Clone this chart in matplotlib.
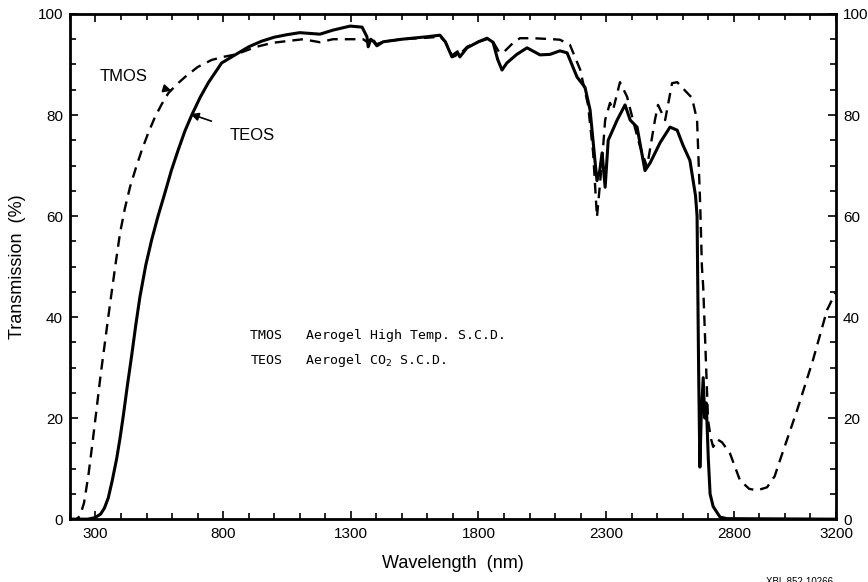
import matplotlib
matplotlib.use('Agg')
import matplotlib.pyplot as plt
from matplotlib.ticker import MultipleLocator

# TEOS aerogel (CO2 supercritical drying), solid line
teos_nm = [200, 270, 298, 320, 335, 350, 365, 383, 396, 409, 425, 442, 458, 474,
           497, 520, 545, 572, 597, 624, 650, 677, 710, 742, 794, 850, 900, 950,
           1000, 1050, 1100, 1179, 1230, 1297, 1344, 1363,
           1368, 1378, 1390, 1402, 1427, 1500, 1600, 1649, 1670, 1696, 1710, 1718,
           1727, 1755, 1800, 1833, 1857, 1875, 1892, 1911, 1950, 1990, 2041, 2080,
           2119, 2147, 2186, 2217, 2237, 2257, 2264, 2275, 2284, 2296, 2308, 2343,
           2374, 2394, 2421, 2452, 2472, 2511, 2550, 2578, 2601, 2628, 2650, 2656,
           2662, 2667, 2672, 2680, 2686, 2692, 2700, 2707, 2719, 2746, 2773, 3200]
teos_T = [0, 0, 0.3, 1, 2.2, 4.2, 7.5, 12, 16, 20.5, 26.5, 32.5, 38.5, 44,
          50.3, 55.3, 60, 64.6, 69, 73.1, 76.8, 80, 83.5, 86.4, 90.3, 92, 93.5, 94.6,
          95.4, 95.9, 96.3, 96, 96.8, 97.6, 97.4, 95.5,
          93.5, 95, 94.5, 93.7, 94.5, 95, 95.5, 95.8, 94.5, 91.5, 91.8, 92.4,
          91.5, 93.3, 94.5, 95.2, 94.4, 91, 88.9, 90.3, 92, 93.3, 91.9, 92,
          92.7, 92.3, 87.5, 85.5, 81, 70.5, 67, 69, 72.5, 65.7, 75, 79,
          82, 79, 77.6, 69, 70.5, 74.5, 77.6, 77, 74, 71, 64, 60,
          30, 10.3, 20, 28, 20, 23, 12, 5, 2.5, 0.4, 0.1, 0]

# TMOS aerogel (high temperature supercritical drying), dashed line
tmos_nm = [200, 225, 239, 255, 272, 288, 304, 320, 337, 350, 363, 380, 396, 415,
           435, 458, 481, 507, 533, 560, 585, 617, 650, 700, 755, 800, 850, 930,
           995, 1113, 1179, 1230, 1348, 1368, 1380,
           1400, 1427, 1500, 1600, 1649, 1670, 1696, 1718, 1727, 1755, 1800, 1833,
           1857, 1880, 1896, 1930, 1962, 2014, 2092, 2119, 2158, 2198, 2229, 2249,
           2264, 2284, 2296, 2315, 2327, 2354, 2382, 2410, 2433, 2460, 2491, 2503,
           2531, 2558, 2578, 2617, 2636, 2656, 2668, 2675, 2680, 2688, 2699, 2710,
           2719, 2735, 2754, 2785, 2824, 2860, 2891, 2930, 2960, 2981, 3048, 3110,
           3165, 3200]
tmos_T = [0, 0, 0.6, 3.2, 8.6, 15, 21.7, 28.5, 35, 40, 44.8, 51, 56.6, 61.5,
          65.7, 69.5, 73, 76.5, 79.6, 82.2, 84.3, 86, 87.5, 89.5, 90.9, 91.5, 92, 93.5,
          94.3, 95, 94.4, 95, 95, 94.3, 95.5,
          94, 94.5, 95, 95.3, 95.5, 94.5, 91.8, 92.6, 92, 93.5, 94.5, 95,
          94.5, 92.5, 92.3, 94, 95.2, 95.2, 95, 94.9, 93.9, 89, 82, 72.5,
          59.8, 71, 79, 82.4, 81, 86.5, 83.6, 78, 73.7, 69.7, 79, 82,
          79, 86.3, 86.5, 84.4, 83.4, 79, 62.6, 50, 46, 35, 19.6, 16,
          14.3, 15.8, 15.2, 13, 7.7, 6, 5.7, 6.3, 8.5, 11.7, 21.6, 31.5,
          41.4, 45]

xticks = [300, 800, 1300, 1800, 2300, 2800, 3200]
yticks = [0, 20, 40, 60, 80, 100]

plt.rcParams['font.family'] = ['Liberation Sans', 'DejaVu Sans']

fig = plt.figure(figsize=(8.68, 5.82), dpi=100)
ax = fig.add_axes([0.0806, 0.108, 0.8825, 0.868])

ax.plot(teos_nm, teos_T, color='black', lw=2.2, solid_joinstyle='round')
ax.plot(tmos_nm, tmos_T, color='black', lw=1.7, dashes=(4.5, 3))

ax.set_xlim(200, 3200)
ax.set_ylim(0, 100)
ax.set_xticks(xticks)
ax.set_yticks(yticks)
ax.xaxis.set_minor_locator(MultipleLocator(100))
ax.yaxis.set_minor_locator(MultipleLocator(5))
ax.tick_params(which='both', direction='in', top=True, right=True,
               labelright=True, width=1.2, labelsize=11, pad=6)
ax.tick_params(axis='y', which='major', pad=5)
ax.tick_params(which='major', length=6)
ax.tick_params(which='minor', length=4)
for s in ax.spines.values():
    s.set_linewidth(2)

ax.set_xlabel('Wavelength  (nm)', fontsize=13, labelpad=10)
ax.set_ylabel('Transmission  (%)', fontsize=13, labelpad=8)

# curve labels with arrows
ax.annotate('TMOS', xy=(598, 84.8), xytext=(410, 87.6), fontsize=12,
            ha='center', va='center',
            arrowprops=dict(arrowstyle='-|>', color='black', lw=1.2, shrinkA=12, shrinkB=0))
ax.annotate('TEOS', xy=(672, 80.2), xytext=(915, 76), fontsize=12,
            ha='center', va='center',
            arrowprops=dict(arrowstyle='-|>', color='black', lw=1.2, shrinkA=12, shrinkB=0))

# key text block
ax.text(905, 36.4, 'TMOS   Aerogel High Temp. S.C.D.', family='DejaVu Sans Mono',
        fontsize=9.5, va='center')
ax.text(905, 31.4, 'TEOS   Aerogel CO$_2$ S.C.D.', family='DejaVu Sans Mono',
        fontsize=9.5, va='center')

fig.text(0.882, 0.0, 'XBL 852-10266', fontsize=7, va='center')

fig.savefig('out.png', dpi=100)
